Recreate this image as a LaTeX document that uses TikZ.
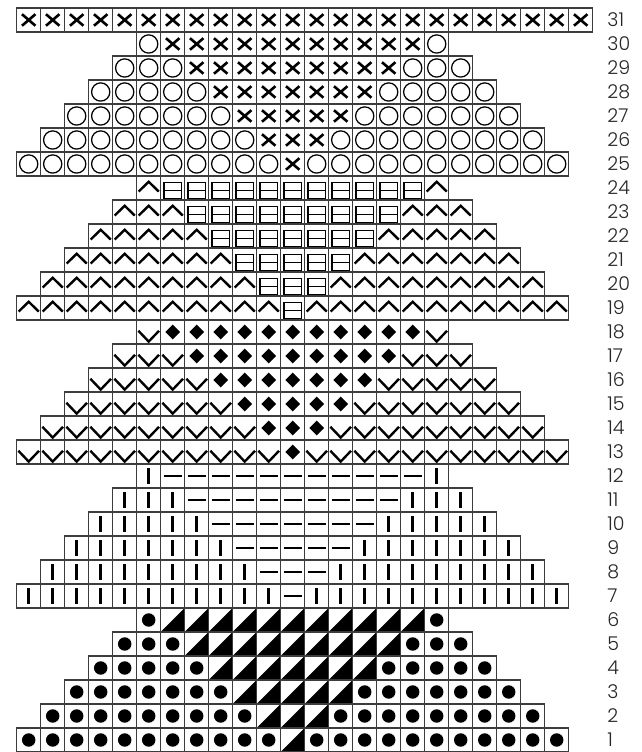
\documentclass[tikz,border=0pt]{standalone}
\usepackage{fontspec}
\setmainfont{Poppins}[UprightFont={* Light}]
\usetikzlibrary{positioning}
\definecolor{gridgray}{RGB}{60,60,60}

% one block of six rows: top row, outer symbol, middle symbol
\newcommand{\chartblock}[3]{%
  \foreach \k [evaluate=\k as \r using int(#1-\k),
      evaluate=\k as \lo using int(6-\k),
      evaluate=\k as \hi using int(18+\k)] in {0,...,5}{
    \foreach \c in {\lo,...,\hi}{
      \pgfmathtruncatemacro{\cdist}{abs(\c-12)}
      \ifnum\cdist>\numexpr5-\k\relax
        \pic at (\c-0.5,\r-0.5) {#2};
      \else
        \pic at (\c-0.5,\r-0.5) {#3};
      \fi
      \draw[cell] (\c-1,\r-1) rectangle (\c,\r);
    }
  }%
}

\begin{document}
\begin{tikzpicture}[
    x=0.6cm, y=0.6cm,
    cell/.style={draw=gridgray, line width=0.85pt},
    heavy/.style={line width=1.7pt, black},
    light/.style={line width=0.9pt, black},
    rownum/.style={anchor=west, inner sep=0pt, font=\fontsize{13.5}{14}\selectfont, black!85},
    pics/cross/.style={code={\draw[heavy, line width=1.85pt] (-0.28,-0.24) -- (0.28,0.24) (-0.28,0.24) -- (0.28,-0.24);}},
    pics/ring/.style={code={\draw[light] (0,0) circle (0.38);}},
    pics/caret/.style={code={\draw[heavy] (-0.42,-0.15) -- (0,0.26) -- (0.42,-0.15);}},
    pics/boxbar/.style={code={\draw[light] (-0.36,-0.44) rectangle (0.36,0.24) (-0.36,-0.1) -- (0.36,-0.1);}},
    pics/vee/.style={code={\draw[heavy] (-0.43,0.05) -- (0,-0.4) -- (0.43,0.05);}},
    pics/lozenge/.style={code={\fill[black] (0,0.31) -- (0.31,0) -- (0,-0.31) -- (-0.31,0) -- cycle;}},
    pics/vbar/.style={code={\draw[heavy, line width=1.8pt] (0,-0.32) -- (0,0.32);}},
    pics/hbar/.style={code={\draw[heavy, line width=1.8pt] (-0.38,0) -- (0.38,0);}},
    pics/dot/.style={code={\fill[black] (0,0) circle (0.28);}},
    pics/halftri/.style={code={\fill[black] (-0.5,-0.5) -- (0.5,0.5) -- (0.5,-0.5) -- cycle;}},
]
    \useasboundingbox (-0.696,0) rectangle (26.012,31.333);
    \fill[white] (-0.696,0) rectangle (26.012,31.333);

    % Top row
    \foreach \c in {1,...,24}{
      \pic at (\c-0.5,30.5) {cross};
      \draw[cell] (\c-1,30) rectangle (\c,31);
    }

    % Blocks
    \chartblock{30}{ring}{cross}
    \chartblock{24}{caret}{boxbar}
    \chartblock{18}{vee}{lozenge}
    \chartblock{12}{vbar}{hbar}
    \chartblock{6}{dot}{halftri}

    % Row numbers
    \foreach \r in {1,...,31}
      \node[rownum] (row\r) at (24.6,\r-0.5) {\r};
\end{tikzpicture}
\end{document}
